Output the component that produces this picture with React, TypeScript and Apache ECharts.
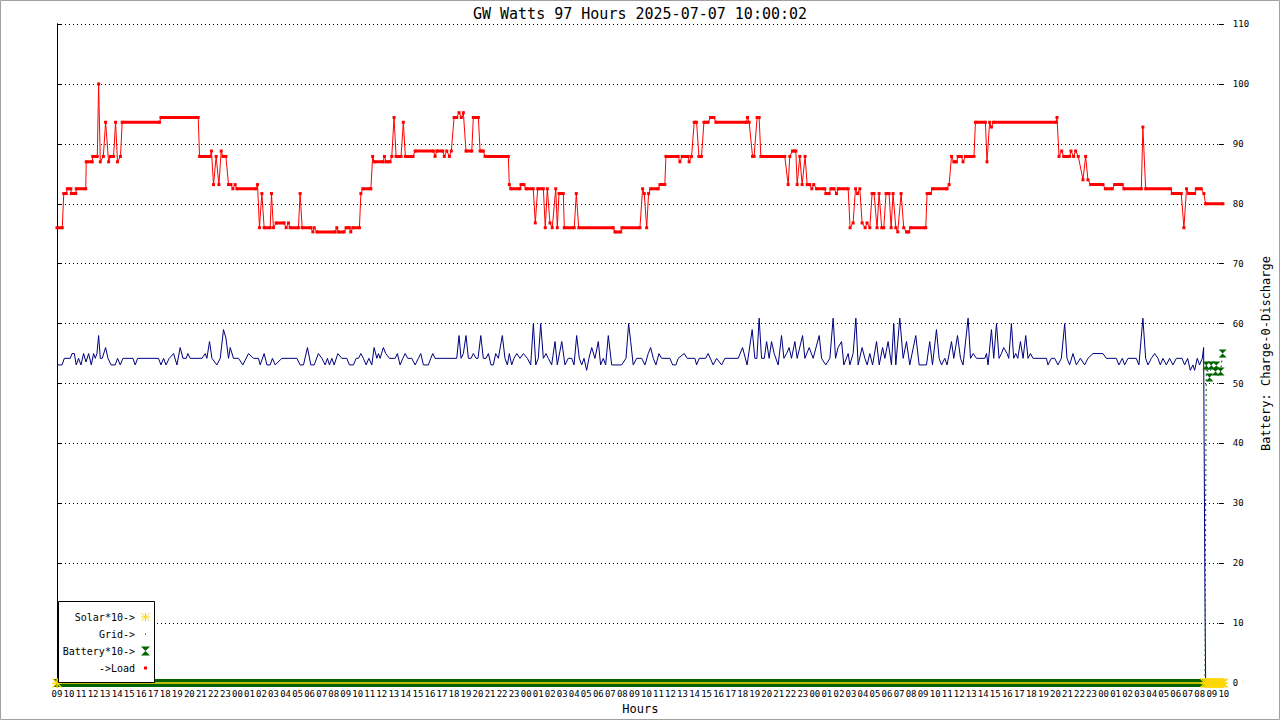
import React, { useEffect, useRef } from "react";
import * as echarts from "echarts";

const TITLE = "GW Watts 97 Hours 2025-07-07 10:00:02";
const START_HOUR = 9;
const SPAN_HOURS = 97;
const Y_MAX = 110;
const Y_STEP = 10;
const X_NAME = "Hours";
const Y_NAME = "Battery: Charge-0-Discharge";
const LEGEND_LABELS = ["Solar*10->", "Grid->", "Battery*10->", "->Load"];

// [hour since start, value]
const LOAD: number[][] = [
  [0, 76], [0.44, 76], [0.56, 81.7], [0.77, 81.7], [0.86, 82.5], [1.15, 82.5], [1.19, 81.7], [1.56, 81.7],
  [1.6, 82.5], [2.39, 82.5], [2.43, 87], [2.93, 87], [2.97, 87.9], [3.35, 87.9], [3.46, 100], [3.6, 87],
  [3.85, 87.9], [4.04, 93.6], [4.29, 87], [4.43, 87.9], [4.7, 87.9], [4.87, 93.6], [5.03, 87], [5.28, 87.9],
  [5.42, 93.6], [8.52, 93.6], [8.64, 94.4], [11.74, 94.4], [11.85, 87.9], [12.74, 87.9], [12.84, 88.8],
  [13.01, 83.2], [13.23, 87.9], [13.46, 83.2], [13.65, 88.8], [13.79, 87.9], [14.04, 87.9], [14.26, 83.2],
  [14.46, 83.2], [14.62, 82.5], [14.81, 83.2], [14.95, 82.5], [16.56, 82.5], [16.67, 83.2], [16.83, 76],
  [17.03, 81.7], [17.22, 76], [17.72, 76], [17.83, 81.7], [17.99, 76], [18.22, 76.8], [18.88, 76.8],
  [19.05, 76], [19.24, 76.8], [19.38, 76], [20.07, 76], [20.21, 81.7], [20.38, 76], [21.1, 76],
  [21.27, 75.3], [21.38, 76], [21.6, 75.3], [23.12, 75.3], [23.26, 76], [23.39, 75.3], [23.87, 75.3],
  [24.03, 76], [24.31, 76], [24.42, 75.3], [24.59, 76], [25.14, 76], [25.26, 81.7], [25.42, 82.5],
  [26.09, 82.5], [26.24, 87.9], [26.36, 87], [27.11, 87], [27.22, 87.9], [27.36, 87], [27.69, 87],
  [27.83, 87.9], [28.02, 94.4], [28.19, 87.9], [28.6, 87.9], [28.79, 93.6], [28.96, 87.9], [29.6, 87.9],
  [29.77, 88.8], [31.29, 88.8], [31.43, 87.9], [31.57, 88.8], [32.07, 88.8], [32.2, 87.9], [32.4, 88.8],
  [32.62, 87.9], [32.78, 88.8], [33.01, 94.4], [33.23, 94.4], [33.42, 95.2], [33.61, 94.4], [33.78, 95.2],
  [34.0, 88.8], [34.48, 88.8], [34.61, 94.4], [35.03, 94.4], [35.17, 88.8], [35.44, 88.8], [35.58, 87.9],
  [37.52, 87.9], [37.6, 83.2], [37.72, 82.5], [38.49, 82.5], [38.57, 83.2], [38.82, 83.2], [38.99, 82.5],
  [39.59, 82.5], [39.76, 76.8], [39.96, 82.5], [40.43, 82.5], [40.59, 76], [40.76, 82.5], [40.98, 76.8],
  [41.17, 76], [41.46, 82.5], [41.59, 76], [41.73, 81.7], [42.09, 81.7], [42.17, 76], [43.0, 76],
  [43.17, 81.7], [43.37, 76], [46.24, 76], [46.38, 75.3], [46.86, 75.3], [46.96, 76], [48.46, 76],
  [48.68, 82.5], [48.82, 81.7], [49.02, 76], [49.18, 81.7], [49.35, 82.5], [49.98, 82.5], [50.12, 83.2],
  [50.53, 83.2], [50.62, 87.9], [51.64, 87.9], [51.78, 87], [51.97, 87.9], [52.47, 87.9], [52.55, 87],
  [52.75, 87.9], [52.97, 93.6], [53.17, 93.6], [53.36, 87.9], [53.58, 87.9], [53.78, 93.6], [54.13, 93.6],
  [54.33, 94.4], [54.61, 94.4], [54.77, 93.6], [57.32, 93.6], [57.4, 94.4], [57.54, 93.6], [57.82, 87.9],
  [57.95, 87.9], [58.2, 94.4], [58.37, 94.4], [58.51, 87.9], [60.5, 87.9], [60.78, 83.2], [60.92, 87.9],
  [61.14, 88.8], [61.42, 88.8], [61.53, 83.2], [61.75, 87.9], [61.94, 83.2], [62.19, 87.9], [62.36, 83.2],
  [62.58, 83.2], [62.75, 82.5], [62.91, 83.2], [63.14, 82.5], [63.83, 82.5], [63.91, 81.7], [64.19, 81.7],
  [64.33, 82.5], [64.6, 82.5], [64.8, 81.7], [64.94, 82.5], [65.77, 82.5], [65.93, 76], [66.18, 76.8],
  [66.38, 82.5], [66.55, 81.7], [66.74, 82.5], [66.93, 76.8], [67.18, 76], [67.34, 76.8], [67.57, 76],
  [67.76, 81.7], [67.92, 81.7], [68.17, 76], [68.34, 81.7], [68.56, 76], [68.73, 76], [68.92, 81.7],
  [69.17, 81.7], [69.34, 76], [69.5, 81.7], [69.73, 76], [69.89, 75.3], [70.17, 81.7], [70.39, 76],
  [70.62, 75.3], [70.81, 75.3], [70.95, 76], [72.22, 76], [72.33, 81.7], [72.61, 81.7], [72.78, 82.5],
  [73.99, 82.5], [74.16, 83.2], [74.36, 87.9], [74.55, 87], [74.77, 87], [74.91, 87.9], [75.18, 87.9],
  [75.32, 87], [75.52, 87.9], [76.23, 87.9], [76.35, 93.6], [77.18, 93.6], [77.31, 87], [77.53, 93.6],
  [77.68, 92.8], [77.84, 93.6], [83.08, 93.6], [83.13, 94.4], [83.3, 87.9], [83.52, 88.8], [83.69, 87.9],
  [84.18, 87.9], [84.29, 88.8], [84.51, 87.9], [84.68, 88.8], [84.9, 87.9], [85.29, 84], [85.51, 87.9],
  [85.7, 84], [85.93, 83.2], [86.95, 83.2], [87.15, 82.5], [87.73, 82.5], [87.92, 83.2], [88.56, 83.2],
  [88.69, 82.5], [90.14, 82.5], [90.27, 92.8], [90.5, 82.5], [92.57, 82.5], [92.71, 81.7], [93.46, 81.7],
  [93.68, 76], [93.9, 82.5], [94.07, 81.7], [94.57, 81.7], [94.71, 82.5], [95.12, 82.5], [95.34, 81.7],
  [95.48, 80], [96.92, 80],
];

const GRID: number[][] = [
  [0, 53.1], [0.42, 53.1], [0.61, 54.2], [1.1, 54.2], [1.25, 55], [1.44, 55], [1.6, 53.1], [1.79, 54.2],
  [1.99, 53.1], [2.21, 55], [2.41, 53.6], [2.63, 55], [2.85, 53.1], [3.04, 55], [3.18, 54.2], [3.32, 55],
  [3.46, 58], [3.6, 54.2], [3.76, 54.2], [4.04, 56], [4.24, 54.2], [4.49, 53.1], [4.84, 53.1], [5.03, 54.2],
  [5.26, 53.1], [5.48, 54.2], [6.31, 54.2], [6.5, 53.1], [6.7, 54.2], [8.44, 54.2], [8.64, 53.1], [8.86, 54.2],
  [9.06, 53.1], [9.33, 54.2], [9.69, 55], [9.97, 53.1], [10.24, 56], [10.47, 54.2], [10.74, 54.2], [10.88, 55],
  [11.07, 54.2], [12.05, 54.2], [12.32, 55], [12.46, 54.2], [12.68, 57], [12.88, 54.2], [13.29, 53.1],
  [13.57, 54.2], [13.84, 59], [14.04, 57.6], [14.26, 54.2], [14.4, 56], [14.67, 54.2], [15.09, 54.2],
  [15.45, 53.1], [15.92, 55], [16.33, 54.2], [16.75, 54.2], [16.89, 53.1], [17.22, 55], [17.45, 53.1],
  [17.72, 53.1], [17.91, 54.2], [18.14, 53.1], [18.69, 54.2], [19.94, 54.2], [20.21, 53.1], [20.49, 53.1],
  [20.82, 56], [21.1, 53.1], [21.38, 53.1], [21.73, 55], [22.02, 54.2], [22.29, 53.1], [22.48, 54.2],
  [22.65, 53.1], [22.85, 54.2], [23.04, 53.1], [23.35, 55], [23.68, 54.2], [24.09, 54.2], [24.31, 53.1],
  [24.64, 53.1], [24.87, 54.2], [25.06, 54.2], [25.26, 55], [25.47, 54.2], [25.7, 53.1], [25.92, 54.2],
  [26.17, 53.1], [26.36, 56], [26.59, 54.2], [26.72, 55], [26.86, 54.2], [27.13, 56], [27.33, 55],
  [27.63, 54.2], [28.11, 54.2], [28.3, 55], [28.52, 53.1], [28.75, 54.2], [28.94, 55], [29.16, 54.2],
  [29.49, 54.2], [29.77, 53.1], [30.04, 54.2], [30.24, 55], [30.46, 53.1], [30.87, 53.1], [31.07, 54.2],
  [31.24, 55], [31.43, 54.2], [33.23, 54.2], [33.42, 58], [33.59, 54.2], [33.78, 55], [34.0, 58],
  [34.2, 54.2], [34.42, 54.2], [34.61, 55], [34.84, 54.2], [35.0, 54.2], [35.23, 58], [35.44, 54.2],
  [35.67, 54.2], [35.86, 55], [36.08, 53.1], [36.27, 53.1], [36.47, 55], [36.69, 54.2], [37.02, 58],
  [37.24, 54.2], [37.44, 53.1], [37.6, 55], [37.8, 53.1], [37.99, 54.2], [38.22, 55], [38.49, 54.2],
  [38.77, 55], [39.1, 54.2], [39.38, 53.1], [39.6, 60], [39.8, 53.1], [40.01, 54.2], [40.21, 60],
  [40.43, 54.2], [40.65, 55], [40.84, 54.2], [41.12, 53.1], [41.4, 57], [41.59, 53.1], [41.96, 57],
  [42.23, 53.1], [42.5, 54.2], [42.79, 54.2], [42.98, 53.1], [43.2, 58], [43.42, 54.2], [43.62, 53.1],
  [43.81, 54.2], [44.03, 52.2], [44.22, 54.2], [44.45, 56], [44.72, 54.2], [45.0, 57], [45.19, 53.1],
  [45.41, 54.2], [45.61, 53.1], [45.83, 58], [46.11, 53.1], [46.94, 53.1], [47.3, 54.2], [47.52, 60],
  [47.69, 57], [47.9, 53.1], [48.19, 54.2], [48.6, 54.2], [48.88, 53.1], [49.15, 55], [49.35, 56],
  [49.57, 54.2], [49.79, 53.1], [50.04, 55], [50.26, 54.2], [50.95, 54.2], [51.18, 53.1], [51.45, 53.1],
  [51.64, 54.2], [52.14, 55], [52.39, 54.2], [53.03, 54.2], [53.17, 53.1], [53.39, 54.2], [53.92, 54.2],
  [54.13, 55], [54.55, 53.1], [54.83, 54.2], [55.25, 53.1], [55.52, 54.2], [56.63, 54.2], [56.99, 56],
  [57.37, 53.1], [57.79, 59], [58.01, 54.2], [58.18, 54.2], [58.37, 60.9], [58.57, 54.2], [58.8, 54.2],
  [58.99, 57], [59.2, 54.2], [59.4, 57], [59.62, 55], [59.95, 53.1], [60.23, 58], [60.43, 54.2],
  [60.65, 55], [60.86, 56], [61.06, 54.2], [61.34, 57], [61.53, 54.2], [61.98, 58], [62.17, 54.2],
  [62.53, 56], [62.86, 54.2], [63.36, 58], [63.56, 54.2], [63.91, 53.1], [64.25, 54.2], [64.52, 60.9],
  [64.72, 54.2], [64.93, 56], [65.22, 57], [65.41, 53.1], [65.77, 55], [65.91, 53.1], [66.18, 55],
  [66.41, 60.9], [66.6, 53.1], [66.93, 56], [67.16, 54.2], [67.35, 53.1], [67.57, 55], [67.8, 53.1],
  [68.13, 57], [68.35, 53.1], [68.63, 56], [68.82, 54.2], [69.09, 57], [69.37, 53.1], [69.56, 60],
  [69.73, 53.1], [70.06, 60.9], [70.34, 54.2], [70.62, 57], [70.89, 53.1], [71.39, 58], [71.67, 53.1],
  [72.28, 53.1], [72.55, 57], [72.78, 53.1], [73.11, 59], [73.33, 54.2], [73.53, 53.1], [73.8, 54.2],
  [73.99, 53.1], [74.36, 57], [74.55, 54.2], [74.86, 58], [75.11, 54.2], [75.32, 53.1], [75.74, 60.9],
  [75.94, 54.2], [76.16, 55], [76.44, 54.2], [77.13, 54.2], [77.27, 55], [77.4, 53.1], [77.68, 59],
  [77.87, 54.2], [78.1, 60], [78.31, 54.2], [78.51, 55], [78.7, 56], [78.98, 55], [79.12, 54.2],
  [79.34, 60], [79.53, 54.2], [79.7, 55], [79.87, 54.2], [80.09, 57], [80.31, 54.2], [80.53, 58],
  [80.72, 54.2], [80.92, 55], [81.14, 54.2], [82.25, 54.2], [82.38, 53.1], [82.66, 54.2], [82.94, 54.2],
  [83.21, 53.1], [83.49, 54.2], [83.77, 60], [83.96, 54.2], [84.18, 53.1], [84.46, 55], [84.74, 53.1],
  [85.07, 54.2], [85.43, 53.1], [85.7, 54.2], [86.12, 55], [86.95, 55], [87.23, 54.2], [88.06, 54.2],
  [88.28, 53.1], [88.56, 54.2], [88.75, 53.1], [89.03, 54.2], [89.72, 54.2], [89.94, 53.1], [90.27, 60.9],
  [90.5, 54.2], [90.69, 53.1], [90.97, 54.2], [91.25, 55], [91.52, 54.2], [91.72, 53.1], [91.94, 54.2],
  [92.22, 53.1], [92.49, 54.2], [92.77, 53.1], [93.05, 54.2], [93.52, 54.2], [93.74, 53.1], [93.99, 54.2],
  [94.21, 52.2], [94.43, 53.1], [94.57, 52.2], [94.79, 54.2], [94.98, 53.1], [95.21, 54.2], [95.32, 56],
  [95.43, 14], [95.49, 0], [97, 0],
];

const BATTERY: number[][] = [
  [0, 0], [95.43, 0], [95.54, 53], [95.81, 51], [95.95, 53], [96.31, 52], [96.37, 53], [96.73, 52], [96.9, 55],
];

const SOLAR: number[][] = [
  [0, 0], [95.43, 0], [95.6, 0], [95.8, 0], [96.0, 0], [96.2, 0], [96.4, 0], [96.6, 0], [96.8, 0], [96.95, 0],
];

const C_LOAD = "#ff0000";
const C_GRID = "#000080";
const C_BATT = "#006400";
const C_SOLAR = "#ffd700";
const MONO = "'DejaVu Sans Mono', 'Liberation Mono', monospace";

const HOURGLASS = "path://M0,0 L10,0 L5,5 Z M5,5 L10,10 L0,10 Z";
const ASTERISK =
  "path://M4.3,0 L5.7,0 L5.7,10 L4.3,10 Z M0,4.3 L10,4.3 L10,5.7 L0,5.7 Z M1,0 L10,9 L9,10 L0,1 Z M10,1 L9,0 L0,9 L1,10 Z";

// consecutive equal-value points (dense markers in the source) as broken line pieces
function flatRunPoints(data: number[][]) {
  const out: (number | null)[][] = [];
  for (let i = 0; i < data.length - 1; i++) {
    if (data[i][1] === data[i + 1][1]) {
      out.push(data[i], data[i + 1], [data[i + 1][0], null]);
    }
  }
  return out;
}

export default function App() {
  const ref = useRef<HTMLDivElement>(null);
  useEffect(() => {
    document.body.style.margin = "0";
    if (!ref.current) return;
    const chart = echarts.init(ref.current, undefined, { renderer: "svg" });
    const lx = 135;
    const sx = 145.5;
    const rows = [617, 634, 651, 668];
    const legendGraphics: any[] = [
      { type: "rect", z: 100, shape: { x: 58.5, y: 601.5, width: 96, height: 81 }, style: { fill: "#fff", stroke: "#000", lineWidth: 1 } },
      ...LEGEND_LABELS.map((t, i) => ({
        type: "text",
        z: 101,
        x: lx,
        y: rows[i],
        style: { text: t, fill: "#000", font: `10px ${MONO}`, textAlign: "right", textVerticalAlign: "middle" },
      })),
      { type: "line", z: 101, shape: { x1: sx - 4.5, y1: rows[0], x2: sx + 4.5, y2: rows[0] }, style: { stroke: C_SOLAR, lineWidth: 1 } },
      { type: "line", z: 101, shape: { x1: sx, y1: rows[0] - 4.5, x2: sx, y2: rows[0] + 4.5 }, style: { stroke: C_SOLAR, lineWidth: 1 } },
      { type: "line", z: 101, shape: { x1: sx - 4, y1: rows[0] - 4, x2: sx + 4, y2: rows[0] + 4 }, style: { stroke: C_SOLAR, lineWidth: 1 } },
      { type: "line", z: 101, shape: { x1: sx - 4, y1: rows[0] + 4, x2: sx + 4, y2: rows[0] - 4 }, style: { stroke: C_SOLAR, lineWidth: 1 } },
      { type: "rect", z: 101, shape: { x: sx - 0.5, y: rows[1] - 0.5, width: 1, height: 1 }, style: { fill: C_GRID } },
      { type: "polygon", z: 101, shape: { points: [[sx - 4.5, rows[2] - 4.5], [sx + 4.5, rows[2] - 4.5], [sx, rows[2]]] }, style: { fill: C_BATT } },
      { type: "polygon", z: 101, shape: { points: [[sx - 4.5, rows[2] + 4.5], [sx + 4.5, rows[2] + 4.5], [sx, rows[2]]] }, style: { fill: C_BATT } },
      { type: "rect", z: 101, shape: { x: sx - 1.5, y: rows[3] - 1.5, width: 3, height: 3 }, style: { fill: C_LOAD } },
      { type: "rect", z: 100, shape: { x: 0.5, y: 0.5, width: 1279, height: 719 }, style: { fill: "none", stroke: "#a0a0a0", lineWidth: 1 } },
    ];

    chart.setOption({
      animation: false,
      backgroundColor: "#fff",
      title: {
        text: TITLE,
        left: "center",
        top: 1,
        textStyle: { fontFamily: MONO, fontSize: 15, fontWeight: "normal", color: "#000" },
      },
      grid: { left: 57, right: 56, top: 24, bottom: 36 },
      xAxis: {
        type: "value",
        min: 0,
        max: SPAN_HOURS,
        interval: 1,
        name: X_NAME,
        nameLocation: "middle",
        nameGap: 19,
        nameTextStyle: { fontFamily: MONO, fontSize: 12, color: "#000" },
        axisLine: { show: false },
        axisTick: { show: false },
        splitLine: { show: false },
        axisLabel: {
          fontFamily: MONO,
          fontSize: 9,
          color: "#000",
          margin: 6,
          formatter: (v: number) => String((START_HOUR + v) % 24).padStart(2, "0"),
        },
      },
      yAxis: [
        {
          type: "value",
          position: "right",
          min: 0,
          max: Y_MAX,
          interval: Y_STEP,
          name: Y_NAME,
          nameLocation: "middle",
          nameGap: 32,
          nameRotate: 90,
          nameTextStyle: { fontFamily: MONO, fontSize: 12, color: "#000" },
          axisLine: { show: true, lineStyle: { color: "#000", width: 1 } },
          axisTick: { show: true, length: 5, lineStyle: { color: "#000" } },
          axisLabel: { fontFamily: MONO, fontSize: 9, color: "#000", margin: 9 },
          splitLine: { show: true, lineStyle: { color: "#000", type: [1, 3], width: 1 } },
        },
        {
          type: "value",
          position: "right",
          min: 0,
          max: Y_MAX,
          interval: Y_STEP,
          axisLine: { show: false },
          axisTick: { show: true, inside: true, length: 5, lineStyle: { color: "#000" } },
          axisLabel: { show: false },
          splitLine: { show: false },
        },
        {
          type: "value",
          position: "left",
          min: 0,
          max: Y_MAX,
          axisLine: { show: true, lineStyle: { color: "#000", width: 1 } },
          axisTick: { show: false },
          axisLabel: { show: false },
          splitLine: { show: false },
        },
      ],
      series: [
        {
          name: "Battery band",
          type: "line",
          z: 2,
          clip: false,
          silent: true,
          symbol: "none",
          connectNulls: false,
          lineStyle: { color: C_BATT, width: 8, cap: "butt" },
          data: flatRunPoints(BATTERY),
        },
        {
          name: "Grid->",
          type: "line",
          z: 3,
          data: GRID,
          symbol: "none",
          lineStyle: { color: C_GRID, width: 1 },
        },
        {
          name: "Battery*10->",
          type: "line",
          z: 4,
          clip: false,
          data: BATTERY,
          showAllSymbol: true,
          symbol: HOURGLASS,
          symbolSize: 8,
          itemStyle: { color: C_BATT },
          lineStyle: { color: C_BATT, width: 1, type: [2, 3] },
        },
        {
          name: "Solar*10->",
          type: "line",
          z: 5,
          clip: false,
          data: SOLAR,
          showAllSymbol: true,
          symbol: ASTERISK,
          symbolSize: 10,
          itemStyle: { color: C_SOLAR },
          lineStyle: { color: C_SOLAR, width: 1.5 },
        },
        {
          name: "Load runs",
          type: "line",
          z: 6,
          silent: true,
          symbol: "none",
          connectNulls: false,
          lineStyle: { color: C_LOAD, width: 3, cap: "butt" },
          data: flatRunPoints(LOAD),
        },
        {
          name: "->Load",
          type: "line",
          z: 7,
          data: LOAD,
          showAllSymbol: true,
          symbol: "rect",
          symbolSize: 3,
          itemStyle: { color: C_LOAD },
          lineStyle: { color: C_LOAD, width: 1 },
        },
      ],
      graphic: legendGraphics,
    });
    return () => chart.dispose();
  }, []);
  return <div ref={ref} style={{ width: 1280, height: 720 }} />;
}
